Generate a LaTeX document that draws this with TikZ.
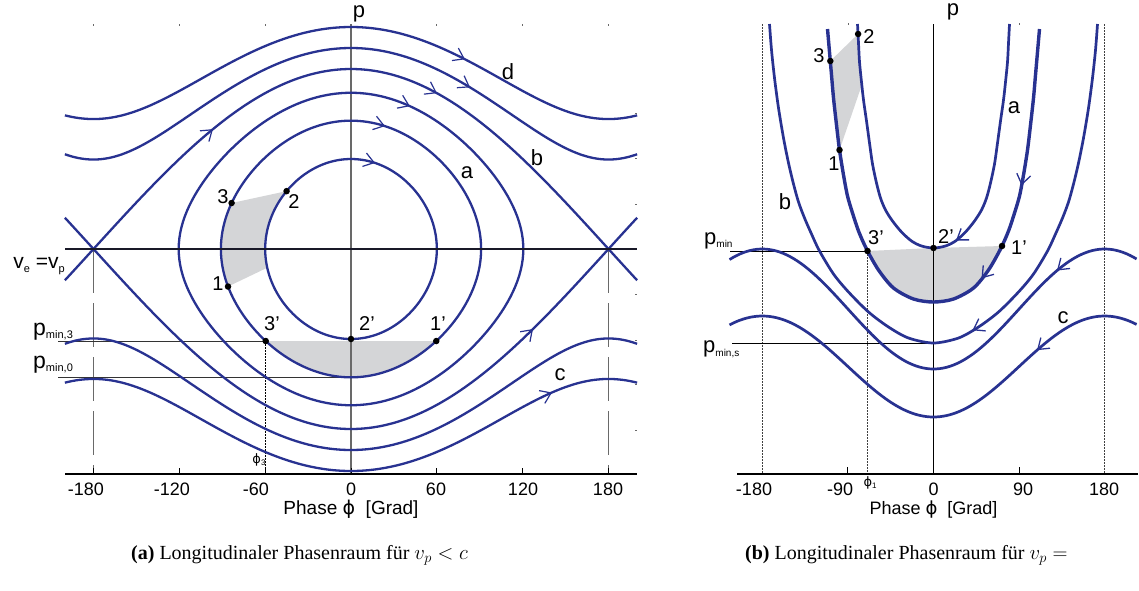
\documentclass[tikz,border=0pt]{standalone}
\usepackage{fontspec}
\setmainfont{Liberation Serif}
\newfontfamily\lsans{Liberation Sans}
\newfontfamily\djv{DejaVu Sans}
\usetikzlibrary{arrows.meta}
\definecolor{cblue}{RGB}{40,50,145}
\definecolor{shadegray}{RGB}{212,213,215}
\definecolor{axgray}{RGB}{105,105,105}
\definecolor{darkline}{RGB}{25,25,40}
\newcommand{\fsz}[1]{\fontsize{#1}{#1}\selectfont}
\newcommand{\XA}[1]{351+1.4305*(#1)}
\tikzset{
  curveA/.style={cblue, line width=2.3pt},
  curveB/.style={cblue, line width=2.7pt},
  curveBB/.style={cblue, line width=3.4pt},
  arrA/.style={cblue, line width=1.2pt, -{Straight Barb[length=10pt,width=14pt]}},
  arrB/.style={cblue, line width=1.3pt, -{Straight Barb[length=10pt,width=14pt]}},
  dotmark/.style={circle, fill=black, inner sep=0pt, minimum size=6.5pt},
  lbl/.style={font=\lsans\fsz{22}, inner sep=0pt},
  numl/.style={font=\lsans\fsz{20}, inner sep=0pt},
  tickl/.style={font=\lsans\fsz{18}, inner sep=0pt, anchor=base},
  thinln/.style={line width=1pt},
  dotln/.style={line width=1pt, dash pattern=on 1.5pt off 1.5pt},
}
\begin{document}
\begin{tikzpicture}[x=1pt,y=-1pt]
\useasboundingbox (0,0) rectangle (1139,590);
\fill[white] (0,0) rectangle (1139,590);

%================ PANEL A =================
\coordinate (a3) at ({\XA{2*asin(0.713*sin(-69))}},{249-128.34*cos(-69)});
\coordinate (a2) at ({\XA{2*asin(0.5*sin(-50))}},{249-90*cos(-50)});
\coordinate (a1) at ({\XA{2*asin(0.713*sin(-107))}},{249-128.34*cos(-107)});
\coordinate (a3p) at ({\XA{2*asin(0.713*sin(-135.8))}},{249-128.34*cos(-135.8)});
\coordinate (a1p) at ({\XA{2*asin(0.713*sin(135.8))}},{249-128.34*cos(135.8)});
\coordinate (a2p) at (351,339);
\coordinate (a0b) at (351,377.34);
\coordinate (aleft) at (58,0);
\coordinate (aaxis) at (0,474);

% shaded regions
\fill[shadegray] plot[domain=-50:-102,samples=30] ({\XA{2*asin(0.5*sin(\x))}},{249-90*cos(\x)})
   -- plot[domain=-107:-69,samples=30] ({\XA{2*asin(0.713*sin(\x))}},{249-128.34*cos(\x)}) -- cycle;
\fill[shadegray] plot[domain=-135.8:-224.2,samples=40] ({\XA{2*asin(0.713*sin(\x))}},{249-128.34*cos(\x)}) -- cycle;

% axes
\draw[axgray, line width=1pt, dash pattern=on 44pt off 10pt] (93.5,249) -- (93.5,474);
\draw[axgray, line width=1pt, dash pattern=on 44pt off 10pt] (608.5,249) -- (608.5,474);
\draw[axgray, line width=1.2pt] (351,24) -- (351,474);
\draw[black, line width=1.3pt] (65,474) -- (637,474);
\foreach \t in {93.5,179.2,265.2,351,436.8,522.6,608.5} \draw[black, line width=1pt] (\t,474) -- (\t,468);
\foreach \t in {93.5,179.2,265.2,436.8,522.6,608.5} \draw[axgray, line width=0.8pt] (\t,24) -- (\t,26);
\foreach \t in {113,158,204,294,340,384,430} \draw[axgray, line width=0.8pt] (635,\t) -- (637,\t);

% p_min lines
\draw[black!80, thinln] (a3p) -- (a3p -| aleft);
\draw[black!80, thinln] (a0b) -- (a0b -| aleft);
\draw[black, dotln] (a3p) -- (a3p |- aaxis);

% closed orbits
\foreach \k in {0.5,0.713,0.868}
  \draw[curveA] plot[domain=0:360,samples=181] ({\XA{2*asin(\k*sin(\x))}},{249-180*\k*cos(\x)}) -- cycle;
% open curves
\foreach \m in {1.2469,1.5211}{
  \draw[curveA] plot[domain=-200:200,samples=161] ({\XA{\x}},{249-180*sqrt(\m-sin(\x/2)*sin(\x/2))});
  \draw[curveA] plot[domain=-200:200,samples=161] ({\XA{\x}},{249+180*sqrt(\m-sin(\x/2)*sin(\x/2))});
}
% separatrix
\draw[curveA] plot[domain=-200:200,samples=161] ({\XA{\x}},{249-180*cos(\x/2)});
\draw[curveA] plot[domain=-200:200,samples=161] ({\XA{\x}},{249+180*cos(\x/2)});

% v_e = v_p line
\draw[darkline, line width=2.8pt] (65,249) -- (637,249);

% arrows
\draw[arrA] plot[domain=13.8:16.8,samples=2] ({\XA{\x}},{249-180*sqrt(0.25-sin(\x/2)*sin(\x/2))});
\draw[arrA] plot[domain=20.8:23.8,samples=2] ({\XA{\x}},{249-180*sqrt(0.5084-sin(\x/2)*sin(\x/2))});
\draw[arrA] plot[domain=38.2:41.2,samples=2] ({\XA{\x}},{249-180*sqrt(0.7534-sin(\x/2)*sin(\x/2))});
\draw[arrA] plot[domain=57.1:60.1,samples=2] ({\XA{\x}},{249-180*cos(\x/2)});
\draw[arrA] plot[domain=80.2:83.2,samples=2] ({\XA{\x}},{249-180*sqrt(1.2469-sin(\x/2)*sin(\x/2))});
\draw[arrA] plot[domain=76.7:79.7,samples=2] ({\XA{\x}},{249-180*sqrt(1.5211-sin(\x/2)*sin(\x/2))});
\draw[arrA] plot[domain=-99.5:-96.5,samples=2] ({\XA{\x}},{249-180*cos(\x/2)});
\draw[arrA] plot[domain=124.2:127.2,samples=2] ({\XA{\x}},{249+180*cos(\x/2)});
\draw[arrA] plot[domain=137.5:140.5,samples=2] ({\XA{\x}},{249+180*sqrt(1.5211-sin(\x/2)*sin(\x/2))});

% dots
\node[dotmark] (da3) at (a3) {};
\node[dotmark] (da2) at (a2) {};
\node[dotmark] (da1) at (a1) {};
\node[dotmark] (da3p) at (a3p) {};
\node[dotmark] (da2p) at (a2p) {};
\node[dotmark] (da1p) at (a1p) {};

% labels
\node[lbl] (la_p) at (359,14) {p};
\node[lbl] (la_d) at (508,72) {d};
\node[lbl] (la_b) at (537,158) {b};
\node[lbl] (la_a) at (467,173) {a};
\node[lbl] (la_c) at (560,375) {c};
\node[numl] (la_3) at (223,197) {3};
\node[numl] (la_2) at (294,202) {2};
\node[numl] (la_1) at (218,284) {1};
\node[numl] (la_3p) at (272,324) {3’};
\node[numl] (la_2p) at (367,324) {2’};
\node[numl] (la_1p) at (438,324) {1’};
\node[inner sep=0, anchor=base east, font=\lsans] (la_ve) at (65,268) {\fsz{21}v\raisebox{-4pt}{\fsz{11}e} =v\raisebox{-4pt}{\fsz{11}p}};
\node[inner sep=0, anchor=base west, font=\lsans] (la_pm3) at (33,335) {\fsz{23}p\raisebox{-3pt}{\fsz{11}min,3}};
\node[inner sep=0, anchor=base west, font=\lsans] (la_pm0) at (33,368) {\fsz{23}p\raisebox{-3pt}{\fsz{11}min,0}};
\node[inner sep=0, font=\djv] (la_phi3) at (259,460) {\fsz{13}ϕ\raisebox{-2pt}{\lsans\fsz{8}3}};
% tick labels
\node[tickl] (ta1) at (86,495) {-180};
\node[tickl] (ta2) at (172,495) {-120};
\node[tickl] (ta3) at (256,495) {-60};
\node[tickl] (ta4) at (351,495) {0};
\node[tickl] (ta5) at (436,495) {60};
\node[tickl] (ta6) at (523,495) {120};
\node[tickl] (ta7) at (608,495) {180};
\node[inner sep=0, anchor=base, font=\lsans\fsz{19}] (axa) at (351,514) {Phase {\djv ϕ}\ \ [Grad]};

%================ PANEL B =================
\coordinate (P3) at (830.3,61);
\coordinate (P2) at (858.1,34);
\coordinate (P1) at (839.5,150);
\coordinate (Pa85) at (861.8,85);
\coordinate (P3p) at (867.5,251);
\coordinate (P2p) at (933.5,248);
\coordinate (P1p) at (1002,246);
\coordinate (bpmin) at (730,0);
\coordinate (baxis) at (0,474);

% shaded regions
\begin{scope}
\clip (P3p) -- (P2p) -- (P1p) -- (1010,320) -- (860,320) -- cycle;
\fill[shadegray] plot[smooth] coordinates {(827.5,29) (829.5,52) (831.5,75) (833.5,98) (836.5,125) (839.5,150) (843.5,175) (847.5,196) (852.5,213) (858.5,231) (866.5,249) (878.5,270) (893.5,288) (913.5,299) (933.5,302) (953.5,299) (973.5,288) (988.5,270) (1000.5,249) (1008.5,231) (1014.5,213) (1019.5,196) (1023.5,175) (1027.5,150) (1030.5,125) (1033.5,98) (1035.5,75) (1037.5,52) (1039.5,29)} -- cycle;
\end{scope}
\begin{scope}
\clip (P3) -- (P2) -- (Pa85) -- (P1) -- (800,150) -- (800,61) -- cycle;
\fill[shadegray, even odd rule] plot[smooth] coordinates {(827.5,29) (829.5,52) (831.5,75) (833.5,98) (836.5,125) (839.5,150) (843.5,175) (847.5,196) (852.5,213) (858.5,231) (866.5,249) (878.5,270) (893.5,288) (913.5,299) (933.5,302) (953.5,299) (973.5,288) (988.5,270) (1000.5,249) (1008.5,231) (1014.5,213) (1019.5,196) (1023.5,175) (1027.5,150) (1030.5,125) (1033.5,98) (1035.5,75) (1037.5,52) (1039.5,29)} -- cycle
  plot[smooth] coordinates {(857.5,24) (858.5,43) (859.5,62) (861.5,82) (863.5,100) (866.5,121) (869.5,143) (872.5,164) (876.5,183) (880.5,198) (885.5,210) (892.5,221) (901.5,232) (911.5,241) (921.5,246) (933.5,248) (945.5,246) (955.5,241) (965.5,232) (974.5,221) (981.5,210) (986.5,198) (990.5,183) (994.5,164) (997.5,143) (1000.5,121) (1003.5,100) (1005.5,82) (1007.5,62) (1008.5,43) (1009.5,24)} -- cycle;
\end{scope}

% axes
\draw[black!75, dotln] (762.3,24) -- (762.3,474);
\draw[black!75, dotln] (1104.7,24) -- (1104.7,474);
\draw[black!75, dotln] (P3p) -- (P3p |- baxis);
\draw[black, line width=1pt] (933.5,24) -- (933.5,474);
\draw[black, line width=1.3pt] (737,474) -- (1138,474);
\foreach \t in {847.9,1019.1} \draw[black, line width=1pt] (\t,474) -- (\t,467);
\foreach \t in {847.9,1019.1} \draw[axgray, line width=0.8pt] (\t,23) -- (\t,25);
\draw[black, thinln] (P3p) -- (P3p -| bpmin);
\draw[black, thinln] (933.5,343.5) -- (732,343.5);

% curves
\draw[curveB] plot[domain=-214.5:213.5,samples=121] ({933.5+0.951*\x},{369-60*(1-cos(\x))});
\draw[curveB] plot[domain=-214.5:213.5,samples=121] ({933.5+0.951*\x},{417-50.5*(1-cos(\x))});
\draw[curveB] plot[smooth] coordinates {(769.5,24) (771.5,50) (774.5,78) (778.5,108) (783.5,138) (788.5,163) (793.5,184) (798.5,202) (804.5,218) (811.5,234) (819.5,251) (833.5,274) (848.5,292) (868.5,312) (888.5,327) (908.5,338) (933.5,343) (958.5,338) (978.5,327) (998.5,312) (1018.5,292) (1033.5,274) (1047.5,251) (1055.5,234) (1062.5,218) (1068.5,202) (1073.5,184) (1078.5,163) (1083.5,138) (1088.5,108) (1092.5,78) (1095.5,50) (1097.5,24)};
\draw[curveBB] plot[smooth] coordinates {(827.5,29) (829.5,52) (831.5,75) (833.5,98) (836.5,125) (839.5,150) (843.5,175) (847.5,196) (852.5,213) (858.5,231) (866.5,249) (878.5,270) (893.5,288) (913.5,299) (933.5,302) (953.5,299) (973.5,288) (988.5,270) (1000.5,249) (1008.5,231) (1014.5,213) (1019.5,196) (1023.5,175) (1027.5,150) (1030.5,125) (1033.5,98) (1035.5,75) (1037.5,52) (1039.5,29)};
\draw[curveB] plot[smooth] coordinates {(857.5,24) (858.5,43) (859.5,62) (861.5,82) (863.5,100) (866.5,121) (869.5,143) (872.5,164) (876.5,183) (880.5,198) (885.5,210) (892.5,221) (901.5,232) (911.5,241) (921.5,246) (933.5,248) (945.5,246) (955.5,241) (965.5,232) (974.5,221) (981.5,210) (986.5,198) (990.5,183) (994.5,164) (997.5,143) (1000.5,121) (1003.5,100) (1005.5,82) (1007.5,62) (1008.5,43) (1009.5,24)};

% arrows
\draw[arrB] (959,238.4) -- (956,240.5);
\draw[arrB] (1022.1,182.5) -- (1021.5,185.5);
\draw[arrB] (984,275.4) -- (981.5,278.4);
\draw[arrB] (975.5,328.6) -- (972.5,330.3);
\draw[arrB] (1060,267.9) -- (1057,270.5);
\draw[arrB] (1040,347.6) -- (1037,350.2);

% dots
\node[dotmark] (dP3) at (P3) {};
\node[dotmark] (dP2) at (P2) {};
\node[dotmark] (dP1) at (P1) {};
\node[dotmark] (dP3p) at (P3p) {};
\node[dotmark] (dP2p) at (P2p) {};
\node[dotmark] (dP1p) at (P1p) {};

% labels
\node[lbl] (lb_p) at (953,12) {p};
\node[lbl] (lb_a) at (1014,108) {a};
\node[lbl] (lb_b) at (785,202) {b};
\node[lbl] (lb_c) at (1063,318) {c};
\node[numl] (lb_1) at (834,164) {1};
\node[numl] (lb_2) at (869,37) {2};
\node[numl] (lb_3) at (819,56) {3};
\node[numl] (lb_3p) at (876,238) {3’};
\node[numl] (lb_2p) at (946,237) {2’};
\node[numl] (lb_1p) at (1019,248) {1’};
\node[inner sep=0, anchor=base west, font=\lsans] (lb_pm) at (704,244) {\fsz{22}p\raisebox{-3pt}{\fsz{10}min}};
\node[inner sep=0, anchor=base west, font=\lsans] (lb_pms) at (703,352) {\fsz{22}p\raisebox{-4pt}{\fsz{10}min,s}};
\node[inner sep=0, font=\djv] (lb_phi1) at (870,483) {\fsz{13}ϕ\raisebox{-2pt}{\lsans\fsz{8}1}};
\node[tickl] (tb1) at (754,495) {-180};
\node[tickl] (tb2) at (840,495) {-90};
\node[tickl] (tb3) at (933.5,495) {0};
\node[tickl] (tb4) at (1023,495) {90};
\node[tickl] (tb5) at (1104,495) {180};
\node[inner sep=0, anchor=base, font=\lsans\fsz{18}] (axb) at (933.5,514) {Phase {\djv ϕ}\ \ [Grad]};

%================ CAPTIONS =================
\node[inner sep=0, anchor=base west, font=\fsz{20}] (capA) at (131,559) {\textbf{(a)} Longitudinaler Phasenraum für $v_p < c$};
\node[inner sep=0, anchor=base west, font=\fsz{20}] (capB) at (745,559) {\textbf{(b)} Longitudinaler Phasenraum für $v_p =$};
\end{tikzpicture}
\end{document}
